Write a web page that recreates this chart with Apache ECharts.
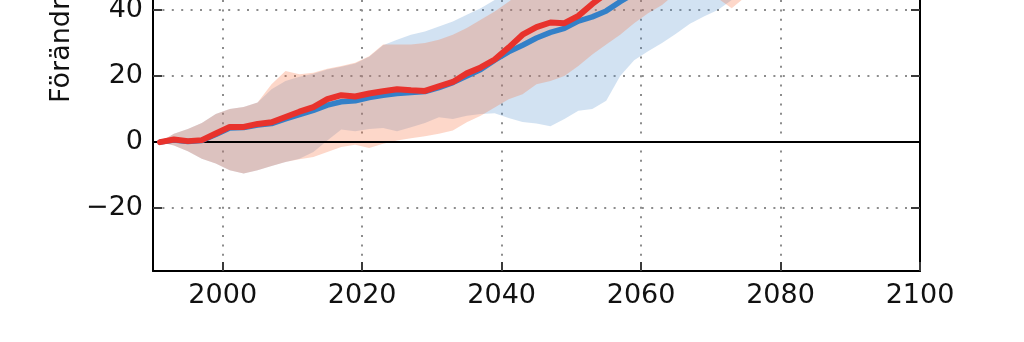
<!DOCTYPE html>
<html>
<head>
<meta charset="utf-8">
<script src="https://cdn.jsdelivr.net/npm/echarts@6/dist/echarts.min.js"></script>
<style>
  html, body { margin: 0; padding: 0; background: #ffffff; }
  #chart { width: 1024px; height: 342px; }
</style>
</head>
<body>
<div id="chart"></div>
<script>
// Years of the projection (two-year steps)
const YEARS = [1991, 1993, 1995, 1997, 1999, 2001, 2003, 2005, 2007, 2009,
               2011, 2013, 2015, 2017, 2019, 2021, 2023, 2025, 2027, 2029,
               2031, 2033, 2035, 2037, 2039, 2041, 2043, 2045, 2047, 2049,
               2051, 2053, 2055, 2057, 2059, 2061, 2063, 2065, 2067, 2069,
               2071, 2073, 2075, 2077];

// Ensemble median, scenario shown in blue (%)
const BLUE_MEDIAN = [0, 0.6, 0.2, 0.5, 2.3, 4.3, 4.4, 5.2, 5.6, 7.0,
                     8.3, 9.6, 11.2, 12.2, 12.5, 13.5, 14.2, 14.7, 15.0, 15.3,
                     16.5, 18.0, 20.0, 22.0, 24.8, 27.3, 29.3, 31.5, 33.2, 34.4,
                     36.6, 37.9, 39.7, 42.5, 45.0, 47.0, 49.0, 51.0, 53.0, 55.0,
                     57.0, 59.0, 61.0, 63.0];
// Ensemble spread, scenario shown in blue (%)
const BLUE_LOW = [0, -1.0, -2.8, -5.0, -6.5, -8.5, -9.5, -8.5, -7.2, -6.0,
                  -5.0, -3.0, 0.5, 3.8, 3.3, 4.0, 4.3, 3.3, 4.5, 5.8,
                  7.5, 7.0, 8.0, 8.5, 8.7, 7.3, 6.1, 5.6, 4.8, 7.0,
                  9.5, 10.0, 12.5, 20.0, 24.8, 27.5, 30.0, 32.8, 35.8, 38.0,
                  40.0, 43.0, 46.0, 49.0];
const BLUE_HIGH = [0, 2.5, 4.0, 5.8, 8.5, 10.0, 10.6, 12.0, 16.0, 18.5,
                   19.8, 20.7, 22.0, 22.8, 23.8, 25.8, 29.3, 31.0, 32.5, 33.5,
                   35.0, 36.5, 38.5, 40.5, 43.0, 45.5, 48.0, 50.0, 52.0, 54.0,
                   56.0, 58.0, 60.0, 62.0, 64.0, 66.0, 68.0, 70.0, 72.0, 74.0,
                   76.0, 78.0, 80.0, 82.0];

// Ensemble median, scenario shown in red (%)
const RED_MEDIAN = [0, 0.8, 0.3, 0.6, 2.6, 4.6, 4.6, 5.5, 6.0, 7.6,
                    9.2, 10.6, 13.0, 14.2, 13.8, 14.7, 15.4, 16.0, 15.7, 15.5,
                    16.9, 18.2, 20.8, 22.6, 25.0, 28.6, 32.5, 34.8, 36.2, 36.0,
                    38.2, 41.8, 45.0, 47.5, 50.0, 52.0, 54.0, 56.5, 58.0, 60.0,
                    62.0, 64.0, 66.0, 68.0];
// Ensemble spread, scenario shown in red (%)
const RED_LOW = [0, -1.0, -2.8, -5.0, -6.5, -8.5, -9.5, -8.5, -7.2, -6.0,
                 -5.2, -4.5, -3.0, -1.5, -0.8, -1.8, -0.5, 0.5, 1.2, 1.8,
                 2.5, 3.5, 6.0, 8.0, 10.5, 13.0, 14.5, 17.5, 18.5, 20.0,
                 23.0, 26.5, 29.5, 32.5, 36.0, 39.0, 41.5, 45.0, 46.0, 45.0,
                 43.5, 40.5, 44.0, 48.0];
const RED_HIGH = [0, 2.5, 4.0, 5.8, 8.5, 10.0, 10.6, 12.0, 17.5, 21.5,
                  20.5, 21.0, 22.2, 23.0, 24.0, 26.0, 29.5, 29.5, 29.5, 30.0,
                  31.0, 32.5, 34.5, 37.0, 39.5, 42.5, 45.5, 48.5, 51.0, 53.0,
                  55.0, 57.0, 59.0, 61.0, 63.0, 65.0, 67.0, 69.0, 71.0, 73.0,
                  75.0, 77.0, 79.0, 81.0];

const X_TICKS = [2000, 2020, 2040, 2060, 2080, 2100];
const Y_TICKS = [-20, 0, 20, 40];

const FONT = 'DejaVu Sans';
const GRID_DOTS = { color: '#8c8c8c', width: 2, type: [2, 7.4] };

function ticks(values) {
  return { show: true, inside: true, length: 9, customValues: values,
           lineStyle: { color: '#3a3a3a', width: 2 } };
}

// Filled polygon between a lower and an upper bound, placed via the axes
function bandSeries(name, low, high, fill) {
  return {
    type: 'custom',
    name: name,
    silent: true,
    clip: true,
    z: 2,
    data: YEARS.map((y, i) => [y, low[i], high[i]]),
    encode: { x: 0, y: [1, 2] },
    renderItem: function (params, api) {
      if (params.dataIndex !== 0) return null;
      const upper = YEARS.map((y, i) => api.coord([y, high[i]]));
      const lower = YEARS.map((y, i) => api.coord([y, low[i]])).reverse();
      return {
        type: 'polygon',
        shape: { points: upper.concat(lower) },
        style: { fill: fill }
      };
    }
  };
}

function medianSeries(name, values, color, width, z) {
  return {
    type: 'line',
    name: name,
    silent: true,
    z: z,
    symbol: 'none',
    showSymbol: false,
    data: YEARS.map((y, i) => [y, values[i]]),
    lineStyle: { color: color, width: width, cap: 'round', join: 'round' }
  };
}

const chart = echarts.init(document.getElementById('chart'), null, { renderer: 'canvas' });

const blueLine = medianSeries('Median blå', BLUE_MEDIAN, '#3380c8', 5.5, 6);
blueLine.markLine = {
  silent: true,
  symbol: 'none',
  label: { show: false },
  lineStyle: { color: '#000000', width: 2, type: 'solid' },
  data: [{ yAxis: 0 }]
};

chart.setOption({
  animation: false,
  backgroundColor: '#ffffff',
  grid: {
    left: 153, right: 104, bottom: 71, top: 0,
    containLabel: false,
    outerBoundsMode: 'none'
  },
  xAxis: {
    type: 'value',
    min: 1990,
    max: 2100,
    position: 'bottom',
    axisLine: { show: true, onZero: false, lineStyle: { color: '#000000', width: 2 } },
    axisTick: ticks(X_TICKS),
    axisLabel: { customValues: X_TICKS, margin: 11, fontFamily: FONT,
                 fontSize: 27, color: '#111111',
                 formatter: v => String(v) },
    splitLine: { show: true, lineStyle: GRID_DOTS }
  },
  yAxis: [
    {
      type: 'value',
      min: -39,
      max: 43,
      position: 'left',
      axisLine: { show: true, onZero: false, lineStyle: { color: '#000000', width: 2 } },
      axisTick: ticks(Y_TICKS),
      axisLabel: { customValues: Y_TICKS, margin: 10, fontFamily: FONT,
                   fontSize: 27, color: '#111111',
                   formatter: v => String(v).replace('-', '\u2212') },
      splitLine: { show: true, lineStyle: GRID_DOTS }
    },
    {
      type: 'value',
      min: -39,
      max: 43,
      position: 'right',
      axisLine: { show: true, onZero: false, lineStyle: { color: '#000000', width: 2 } },
      axisTick: ticks(Y_TICKS),
      axisLabel: { show: false },
      splitLine: { show: false }
    }
  ],
  graphic: [{
    type: 'text',
    x: 62,
    y: 103,
    rotation: Math.PI / 2,
    silent: true,
    style: {
      text: 'Förändring (%)',
      font: '27px "DejaVu Sans"',
      fill: '#111111',
      align: 'left',
      verticalAlign: 'middle'
    }
  }],
  series: [
    bandSeries('Spridning blå', BLUE_LOW, BLUE_HIGH, 'rgba(76,140,204,0.25)'),
    bandSeries('Spridning röd', RED_LOW, RED_HIGH, 'rgba(248,112,60,0.28)'),
    blueLine,
    medianSeries('Median röd', RED_MEDIAN, '#e8322c', 6, 7)
  ]
});
</script>
</body>
</html>
